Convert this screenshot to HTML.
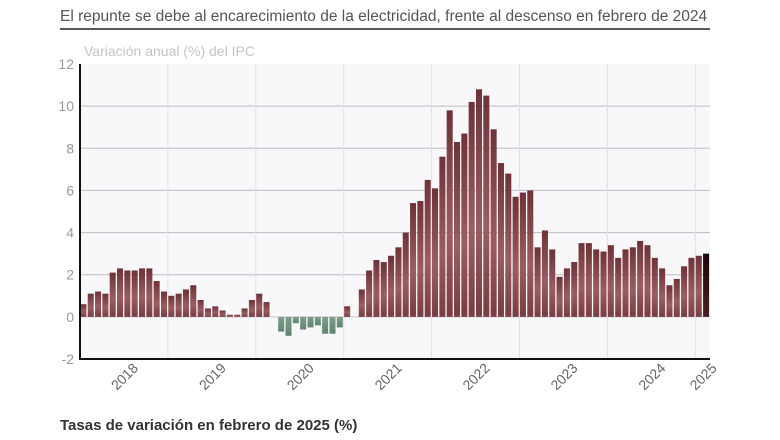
<!DOCTYPE html>
<html><head><meta charset="utf-8">
<style>
body{margin:0;background:#fff;font-family:"Liberation Sans",sans-serif;}
#wrap{position:relative;width:780px;height:440px;overflow:hidden;}
</style></head>
<body>
<div id="wrap">
<svg id="chart" width="780" height="440" xmlns="http://www.w3.org/2000/svg">
<defs>
<linearGradient id="gp" x1="0" y1="0" x2="0" y2="1">
<stop offset="0" stop-color="#6e3237"/><stop offset="0.6" stop-color="#9c5d62"/><stop offset="1" stop-color="#7a3c41"/>
</linearGradient>
<linearGradient id="gn" x1="0" y1="0" x2="0" y2="1">
<stop offset="0" stop-color="#7f9f8b"/><stop offset="1" stop-color="#5c8470"/>
</linearGradient>
<linearGradient id="gl" x1="0" y1="0" x2="0" y2="1">
<stop offset="0" stop-color="#1a080a"/><stop offset="1" stop-color="#4a1e22"/>
</linearGradient>
</defs>
<text x="60" y="21" font-size="15.5" fill="#555">El repunte se debe al encarecimiento de la electricidad, frente al descenso en febrero de 2024</text>
<line x1="60" y1="29" x2="710" y2="29" stroke="#222" stroke-width="1.5"/>
<text x="84" y="56" font-size="14" fill="#c4c4c8">Variación anual (%) del IPC</text>
<rect x="80" y="64" width="630" height="295" fill="#f8f8fa"/>
<g id="grid"></g>
<g id="bars"></g>
<g id="axes"></g>
<text x="60" y="430" font-size="15" font-weight="bold" fill="#333">Tasas de variación en febrero de 2025 (%)</text>
</svg>
</div>
<script>
const values = [
0.6,1.1,1.2,1.1,2.1,2.3,2.2,2.2,2.3,2.3,1.7,1.2,
1.0,1.1,1.3,1.5,0.8,0.4,0.5,0.3,0.1,0.1,0.4,0.8,
1.1,0.7,0.0,-0.7,-0.9,-0.3,-0.6,-0.5,-0.4,-0.8,-0.8,-0.5,
0.5,0.0,1.3,2.2,2.7,2.6,2.9,3.3,4.0,5.4,5.5,6.5,
6.1,7.6,9.8,8.3,8.7,10.2,10.8,10.5,8.9,7.3,6.8,5.7,
5.9,6.0,3.3,4.1,3.2,1.9,2.3,2.6,3.5,3.5,3.2,3.1,
3.4,2.8,3.2,3.3,3.6,3.4,2.8,2.3,1.5,1.8,2.4,2.8,
2.9,3.0];
const yTicks = [-2,0,2,4,6,8,10,12];
const years = ["2018","2019","2020","2021","2022","2023","2024","2025"];
const NS="http://www.w3.org/2000/svg";
const X0=80,X1=710,Y0=359,Y1=64,YMIN=-2,YMAX=12;
const mw=(X1-X0)/values.length;
function x(i){return X0+i*mw;}
function y(v){return Y0-(v-YMIN)/(YMAX-YMIN)*(Y0-Y1);}
function mk(tag,attrs,parent){const e=document.createElementNS(NS,tag);for(const k in attrs)e.setAttribute(k,attrs[k]);parent.appendChild(e);return e;}
const grid=document.getElementById('grid'),bars=document.getElementById('bars'),axes=document.getElementById('axes');
yTicks.forEach(t=>{
 if(t!==YMIN&&t!==YMAX){const l=mk('line',{x1:X0,x2:X1,y1:y(t),y2:y(t),stroke:t===0?'#c8c8cc':'#bdbdc2','stroke-width':1},grid);
 
 }
 const tx=mk('text',{x:X0-6,y:y(t)+5,'text-anchor':'end','font-size':14,fill:'#9a9a9e'},axes);
 tx.textContent=t;
 
 
});
years.forEach((yr,k)=>{
 if(k>0){const l=mk('line',{x1:x(k*12),x2:x(k*12),y1:Y1,y2:Y0,stroke:'#e2e2e6','stroke-width':1},grid);
 
 }
 const end=Math.min((k+1)*12,values.length);
 const cx=(x(k*12)+x(end))/2+15;
 const cy=Y0+10;
 const tx=mk('text',{x:cx,y:cy,'text-anchor':'end','font-size':14,fill:'#666',transform:`rotate(-45 ${cx} ${cy})`},axes);
 tx.textContent=yr;
 
 
});
values.forEach((v,i)=>{
 if(v===0)return;
 const top=Math.min(y(v),y(0)),h=Math.abs(y(v)-y(0));
 const last=i===values.length-1;
 const r=mk('rect',{x:x(i)+0.4,y:top,width:mw-1.3,height:h,fill:last?'url(#gl)':(v<0?'url(#gn)':'url(#gp)')},bars);
 
 
});
const ax=mk('line',{x1:X0,x2:X0,y1:Y1,y2:Y0+1,stroke:'#111','stroke-width':2},axes);


const bx=mk('line',{x1:X0-1,x2:X1,y1:Y0,y2:Y0,stroke:'#111','stroke-width':2},axes);


</script>
</body></html>
